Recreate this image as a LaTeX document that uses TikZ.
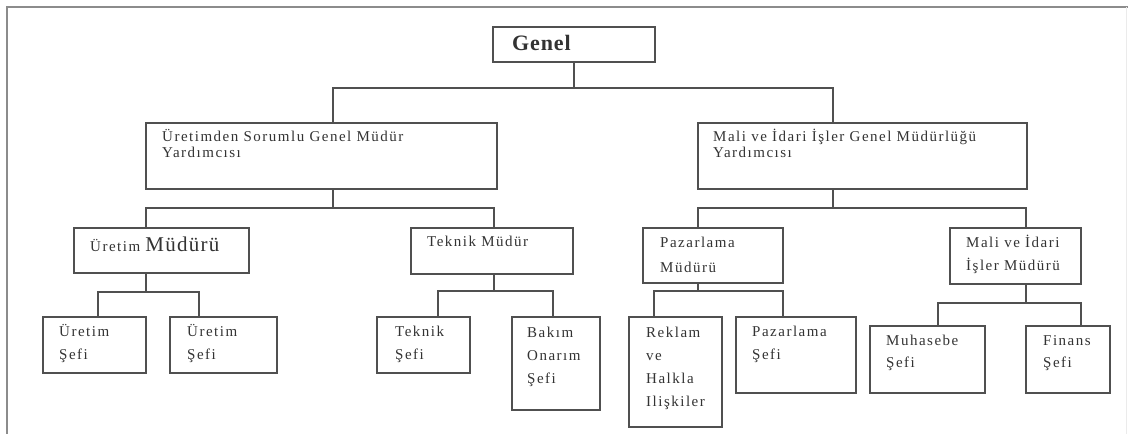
\documentclass[tikz,border=0pt]{standalone}
\usepackage{fontspec}
\setmainfont{Liberation Serif}
\newfontfamily\lbfont[LetterSpace=10]{Liberation Serif}
\newfontfamily\topfont[LetterSpace=4]{Liberation Serif}
\definecolor{frame}{HTML}{8C8C8C}
\definecolor{edge}{HTML}{505050}
\definecolor{txt}{HTML}{333333}
% a box given by its top-left and bottom-right corners
\newcommand{\orgbox}[5]{%
  \node[box, anchor=north west, minimum width={(#4-#2)*1pt}, minimum height={(#5-#3)*1pt}] (#1) at (#2,#3) {};}
% stacked lines whose baseline is the first line
\newcommand{\stack}[1]{\begin{tabular}[t]{@{}l@{}}#1\end{tabular}}
\tikzset{
  box/.style={draw=edge, line width=1.3pt, fill=white, inner sep=0pt, outer sep=0pt},
  wire/.style={draw=edge, line width=1.3pt},
  lbl/.style={font=\lbfont\fontsize{15}{#1}\selectfont, inner sep=0pt, anchor=base west, text=txt},
  lbl/.default=23
}
\begin{document}
\begin{tikzpicture}[x=1pt, y=-1pt]
\useasboundingbox (0,0) rectangle (1128,434);
\fill[white] (0,0) rectangle (1128,434);
% page frame
\draw[frame, line width=2pt] (7,434) -- (7,7) -- (1128,7);
\draw[black!8, line width=1pt] (1126,7) -- (1126,434);

% boxes
\orgbox{genel}{493}{27}{655}{62}
\orgbox{ydl}{146}{123}{497}{189}
\orgbox{ydr}{698}{123}{1027}{189}
\orgbox{um}{74}{228}{249}{273}
\orgbox{tm}{411}{228}{573}{274}
\orgbox{pm}{643}{228}{783}{283}
\orgbox{mm}{950}{228}{1081}{284}
\orgbox{us1}{43}{317}{146}{373}
\orgbox{us2}{170}{317}{277}{373}
\orgbox{ts}{377}{317}{470}{373}
\orgbox{bo}{512}{317}{600}{410}
\orgbox{rh}{629}{317}{722}{427}
\orgbox{ps}{736}{317}{856}{393}
\orgbox{mh}{870}{326}{985}{393}
\orgbox{fs}{1026}{326}{1110}{393}

% labels
\node[inner sep=0pt, anchor=base west, text=txt, font=\topfont\bfseries\fontsize{22}{22}\selectfont] (tgenel) at (512,50) {Genel};
\node[lbl=16] (tydl) at (162,141) {\stack{Üretimden Sorumlu Genel Müdür\\Yardımcısı}};
\node[lbl=16] (tydr) at (713,141) {\stack{Mali ve İdari İşler Genel Müdürlüğü\\Yardımcısı}};
\node[lbl] (tum) at (90,251) {Üretim {\fontsize{21}{21}\selectfont\addfontfeatures{LetterSpace=6}Müdürü}};
\node[lbl] (ttm) at (427,246) {Teknik Müdür};
\node[lbl=25] (tpm) at (660,247) {\stack{Pazarlama\\Müdürü}};
\node[lbl] (tmm) at (966,247) {\stack{Mali ve İdari\\İşler Müdürü}};
\node[lbl] (tus1) at (59,336) {\stack{Üretim\\Şefi}};
\node[lbl] (tus2) at (187,336) {\stack{Üretim\\Şefi}};
\node[lbl] (tts) at (395,336) {\stack{Teknik\\Şefi}};
\node[lbl] (tbo) at (527,337) {\stack{Bakım\\Onarım\\Şefi}};
\node[lbl] (trh) at (646,337) {\stack{Reklam\\ve\\Halkla\\Ilişkiler}};
\node[lbl] (tps) at (752,336) {\stack{Pazarlama\\Şefi}};
\node[lbl=22] (tmh) at (886,345) {\stack{Muhasebe\\Şefi}};
\node[lbl=22] (tfs) at (1043,345) {\stack{Finans\\Şefi}};

% junction points of the connector buses
\coordinate (g1) at (333,88);  \coordinate (g2) at (833,88);
\coordinate (a1) at (146,208); \coordinate (a2) at (494,208);
\coordinate (b1) at (698,208); \coordinate (b2) at (1026,208);
\coordinate (c1) at (98,292);  \coordinate (c2) at (199,292);
\coordinate (d1) at (438,291); \coordinate (d2) at (553,291);
\coordinate (e1) at (654,291); \coordinate (e2) at (783,291);
\coordinate (f1) at (938,303); \coordinate (f2) at (1081,303);

% level 1
\draw[wire] (genel.south) -- (genel.south |- g1);
\draw[wire] (ydl.north -| g1) -- (g1) -- (g2) -- (ydr.north -| g2);
% level 2
\draw[wire] (ydl.south -| g1) -- (g1 |- a1);
\draw[wire] (um.north -| a1) -- (a1) -- (a2) -- (tm.north -| a2);
\draw[wire] (ydr.south -| g2) -- (g2 |- b1);
\draw[wire] (pm.north -| b1) -- (b1) -- (b2) -- (mm.north -| b2);
% level 3
\draw[wire] (um.south -| a1) -- (a1 |- c1);
\draw[wire] (us1.north -| c1) -- (c1) -- (c2) -- (us2.north -| c2);
\draw[wire] (tm.south -| a2) -- (a2 |- d1);
\draw[wire] (ts.north -| d1) -- (d1) -- (d2) -- (bo.north -| d2);
\draw[wire] (pm.south -| b1) -- (b1 |- e1);
\draw[wire] (rh.north -| e1) -- (e1) -- (e2) -- (ps.north -| e2);
\draw[wire] (mm.south -| b2) -- (b2 |- f1);
\draw[wire] (mh.north -| f1) -- (f1) -- (f2) -- (fs.north -| f2);
\end{tikzpicture}
\end{document}
